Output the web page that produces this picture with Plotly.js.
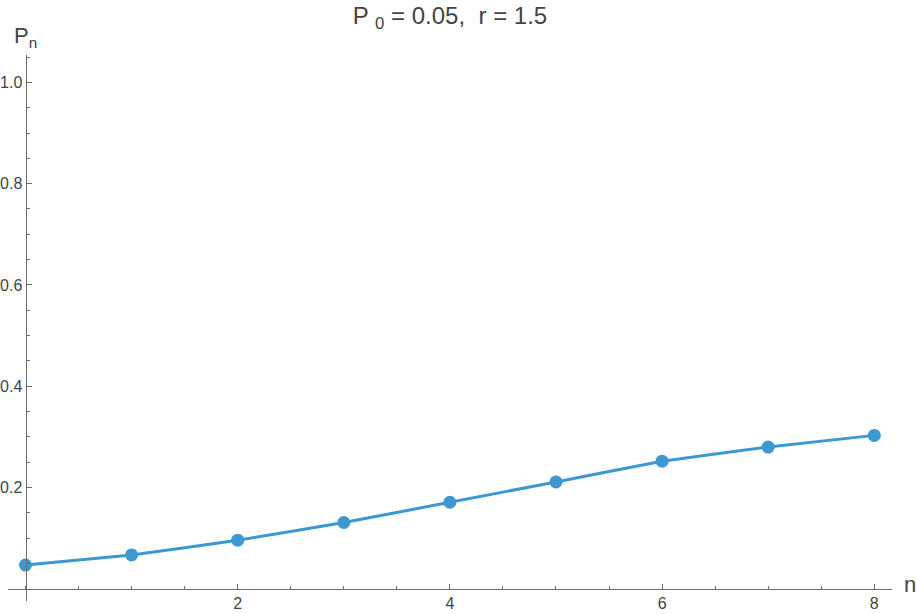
<!DOCTYPE html>
<html>
<head>
<meta charset="utf-8">
<script src="https://cdn.plot.ly/plotly-3.0.1.min.js"></script>
<style>
  html, body { margin: 0; padding: 0; background: #fff; }
  #plot { width: 917px; height: 614px; }
</style>
</head>
<body>
<div id="plot"></div>
<script>
// values
const steps = [0, 1, 2, 3, 4, 5, 6, 7, 8];
const popValues = [0.047, 0.067, 0.096, 0.131, 0.171, 0.211, 0.252, 0.280, 0.303];

const xTickVals = [2, 4, 6, 8];
const xMinorVals = [0, 0.5, 1, 1.5, 2.5, 3, 3.5, 4.5, 5, 5.5, 6.5, 7, 7.5, 8];
const yTickVals = [0.2, 0.4, 0.6, 0.8, 1.0];
const yTickText = ["0.2", "0.4", "0.6", "0.8", "1.0"];
const yMinorVals = [0.05, 0.1, 0.15, 0.25, 0.3, 0.35, 0.45, 0.5, 0.55, 0.65, 0.7, 0.75, 0.85, 0.9, 0.95, 1.05];

const blue = "#3d97d0";
const axisColor = "#6b6b6b";
const textColor = "#444";
const fontFam = "Liberation Sans, Arial, sans-serif";

// axes cross at the origin, like Mathematica
const xRange = [-0.165, 8.167];
const yRange = [-0.024, 1.054];
const xAxisPos = (0 - yRange[0]) / (yRange[1] - yRange[0]);
const yAxisPos = (0 - xRange[0]) / (xRange[1] - xRange[0]);

const data = [{
  x: steps,
  y: popValues,
  type: "scatter",
  mode: "lines+markers",
  line: { color: blue, width: 3, shape: "spline", smoothing: 0.3 },
  marker: { color: blue, size: 13 },
  hoverinfo: "x+y"
}];

const layout = {
  width: 917,
  height: 614,
  margin: { l: 8, r: 25, t: 55, b: 13 },
  paper_bgcolor: "#fff",
  plot_bgcolor: "#fff",
  showlegend: false,
  font: { family: fontFam, color: textColor, size: 16 },
  title: {
    text: "P <sub>0</sub> = 0.05,&nbsp; r = 1.5",
    font: { size: 24, color: textColor, family: fontFam },
    xref: "paper",
    x: 0.5,
    y: 0.975,
    yanchor: "middle"
  },
  xaxis: {
    range: xRange,
    anchor: "free",
    position: xAxisPos,
    showgrid: false,
    zeroline: false,
    showline: true,
    linecolor: axisColor,
    linewidth: 1.3,
    ticks: "inside",
    ticklen: 5,
    tickcolor: axisColor,
    tickmode: "array",
    tickvals: xTickVals,
    tickfont: { size: 16, color: textColor },
    minor: { ticks: "inside", ticklen: 3, tickcolor: axisColor, tickmode: "array", tickvals: xMinorVals, showgrid: false },
    automargin: false,
    fixedrange: true
  },
  yaxis: {
    range: yRange,
    anchor: "free",
    position: yAxisPos,
    showgrid: false,
    zeroline: false,
    showline: true,
    linecolor: axisColor,
    linewidth: 1.3,
    ticks: "inside",
    ticklen: 5,
    tickcolor: axisColor,
    tickmode: "array",
    tickvals: yTickVals,
    ticktext: yTickText,
    tickfont: { size: 16, color: textColor },
    minor: { ticks: "inside", ticklen: 3, tickcolor: axisColor, tickmode: "array", tickvals: yMinorVals, showgrid: false },
    automargin: false,
    fixedrange: true
  },
  annotations: [
    {
      text: "P<sub>n</sub>",
      xref: "paper", yref: "paper",
      x: yAxisPos, y: 1,
      xanchor: "center", yanchor: "bottom",
      yshift: 2,
      showarrow: false,
      font: { size: 22, color: textColor, family: fontFam }
    },
    {
      text: "n",
      xref: "paper", yref: "paper",
      x: 1, y: xAxisPos,
      xanchor: "left", yanchor: "middle",
      xshift: 10, yshift: 4,
      showarrow: false,
      font: { size: 22, color: textColor, family: fontFam }
    }
  ]
};

Plotly.newPlot("plot", data, layout, { displayModeBar: false, staticPlot: true });
</script>
</body>
</html>
